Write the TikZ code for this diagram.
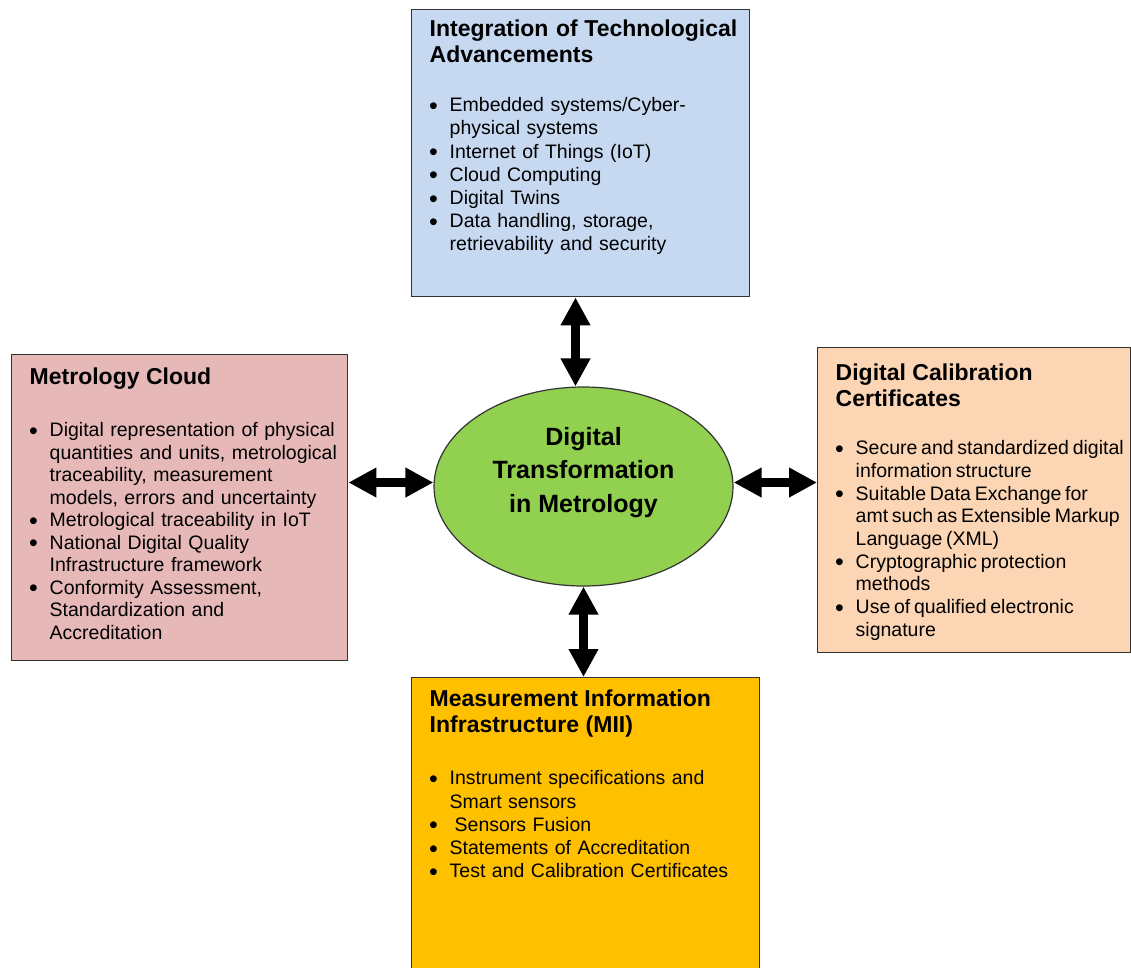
\documentclass[tikz,border=0pt]{standalone}
\usepackage{fontspec}
\setmainfont{Liberation Sans}
\usepackage{tikz}
\usetikzlibrary{arrows.meta, positioning, shapes.geometric, calc}

\definecolor{techblue}{HTML}{C6D9F1}
\definecolor{cloudrose}{HTML}{E6B9B8}
\definecolor{certpeach}{HTML}{FCD5B5}
\definecolor{miigold}{HTML}{FFC000}
\definecolor{coregreen}{HTML}{92D050}

\newcommand{\titlefont}{\fontsize{23}{26}\selectfont\bfseries}
\newcommand{\bodyfont}[1][23]{\fontsize{19.5}{#1}\selectfont}
\newcommand{\boxsetup}{\leftskip=18pt\rightskip=-12pt plus 1fil\parfillskip=0pt plus 1fil}
\newcommand{\bitem}{\par\hangindent=20pt\hangafter=1\noindent\makebox[20pt][l]{\hspace{-0.5pt}\raisebox{-2.5pt}{\fontsize{25}{25}\selectfont\textbullet}}}

\begin{document}
\begin{tikzpicture}[x=1pt, y=-1pt,
    infobox/.style={draw=black!80, line width=1.4pt, anchor=north west,
      inner xsep=0pt, inner ysep=0pt, font=\bodyfont},
    core/.style={ellipse, draw=black!80, line width=1.2pt, fill=coregreen,
      minimum width=299pt, minimum height=199pt, inner sep=0pt, align=center,
      font={\fontsize{25}{33.5}\selectfont\bfseries}},
    biarrow/.style={{Triangle[length=28pt,width=28pt]}-{Triangle[length=28pt,width=28pt]},
      line width=8.5pt}]

  \useasboundingbox (0,0) rectangle (1131,967);
  \clip (0,0) rectangle (1131,967);

  \node[infobox, fill=techblue, text width=338pt, text height=27pt, text depth=260pt] (itech) at (411,9) {\boxsetup
    {\titlefont Integration\hspace{0.05em} of Technological\newline Advancements\par}
    \vspace{25.8pt}\bodyfont[23.2]
    \bitem Embedded systems/Cyber-\newline physical systems
    \bitem Internet of Things (IoT)
    \bitem Cloud Computing
    \bitem Digital Twins
    \bitem Data handling, storage,\newline retrievability and security\par};

  \node[infobox, fill=cloudrose, text width=336pt, text height=30pt, text depth=276pt] (mcloud) at (11,354) {\boxsetup
    {\titlefont Metrology Cloud\par}
    \vspace{29.5pt}\bodyfont[22.5]
    \bitem Digital representation of physical\newline quantities and units, metrological\newline traceability, measurement\newline models, errors and uncertainty
    \bitem Metrological traceability in IoT
    \bitem National Digital Quality\newline Infrastructure framework
    \bitem Conformity Assessment,\newline Standardization and\newline Accreditation\par};

  \node[infobox, fill=certpeach, text width=313pt, text height=33pt, text depth=272pt] (dcc) at (817,347) {\boxsetup
    {\titlefont Digital Calibration\newline Certificates\par}
    \vspace{25.3pt}\bodyfont[22.7]\spaceskip=0.19em plus 0.1em
    \bitem Secure and standardized digital\newline information structure
    \bitem Suitable Data Exchange for\newline amt such as Extensible Markup\newline Language (XML)
    \bitem Cryptographic protection\newline methods
    \bitem Use of qualified electronic\newline signature\par};

  \node[infobox, fill=miigold, text width=348pt, text height=29pt, text depth=291pt] (mii) at (411,677) {\boxsetup
    {\titlefont Measurement Information\newline Infrastructure (MII)\par}
    \vspace{28.7pt}\bodyfont[23.3]
    \bitem Instrument specifications and\newline Smart sensors
    \bitem \hspace{5pt}Sensors Fusion
    \bitem Statements of Accreditation
    \bitem Test and Calibration Certificates\par};

  \node[core] (dtm) at (583.5,486.5) {Digital\\Transformation\\in Metrology\\\mbox{}};

  \draw[biarrow] ([xshift=-8pt]dtm.north) -- ([xshift=-8pt]dtm.north |- itech.south);
  \draw[biarrow] (dtm.south) -- (dtm.south |- mii.north);
  \draw[biarrow] ([yshift=4pt]dtm.west) -- ([yshift=4pt]dtm.west -| mcloud.east);
  \draw[biarrow] ([yshift=4pt]dtm.east) -- ([yshift=4pt]dtm.east -| dcc.west);
\end{tikzpicture}
\end{document}
